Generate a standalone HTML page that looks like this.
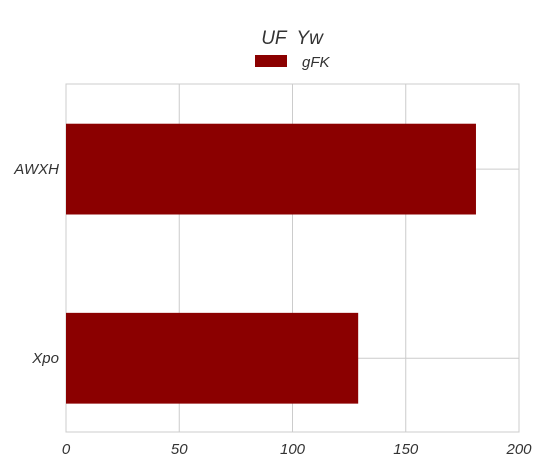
<!DOCTYPE html>
<html><head><meta charset="utf-8"><style>
body{margin:0;background:#fff;}
svg text{font-family:"Liberation Sans",sans-serif;font-style:italic;fill:#333;white-space:pre;}
</style></head><body>
<svg width="546" height="468" xmlns="http://www.w3.org/2000/svg">
<g id="grid"></g><g id="bars"></g><g id="labels"></g>
<text x="292" y="44" font-size="19" text-anchor="middle">UF  Yw</text>
<rect x="255" y="55" width="32" height="12" fill="#8b0000"/>
<text x="302" y="67" font-size="15">gFK</text>
</svg>
<script>
const categories=["AWXH","Xpo"];
const values=[181,129];
const ticks=[0,50,100,150,200];
const L=66,R=519,T=84,B=432;
const yMin=-0.45,yMax=1.39;
const xs=v=>L+v/200*(R-L);
const yc=i=>T+(i-yMin)/(yMax-yMin)*(B-T);
const unit=(B-T)/(yMax-yMin);
const ns="http://www.w3.org/2000/svg";
function mk(t,a,p){const e=document.createElementNS(ns,t);for(const k in a)e.setAttribute(k,a[k]);document.getElementById(p).appendChild(e);return e;}
ticks.forEach(t=>{
 const g=mk('line',{x1:xs(t),x2:xs(t),y1:T,y2:B,stroke:'#ccc','stroke-width':1},'grid');
 
 
 const tx=mk('text',{x:xs(t),y:B+22,'font-size':15,'text-anchor':'middle'},'labels');
 tx.textContent=t;
 
 
});
const fr=mk('rect',{x:L,y:T,width:R-L,height:B-T,fill:'none',stroke:'#ccc'},'grid');


categories.forEach((c,i)=>{
 const g=mk('line',{x1:L,x2:R,y1:yc(i),y2:yc(i),stroke:'#ccc'},'grid');
 
 
 const b=mk('rect',{x:L,y:yc(i)-unit*0.24,width:xs(values[i])-L,height:unit*0.48,fill:'#8b0000'},'bars');
 
 
 const t=mk('text',{x:L-7,y:yc(i)+5,'font-size':15,'text-anchor':'end'},'labels');
 t.textContent=c;
 
 
});
</script>
</body></html>
